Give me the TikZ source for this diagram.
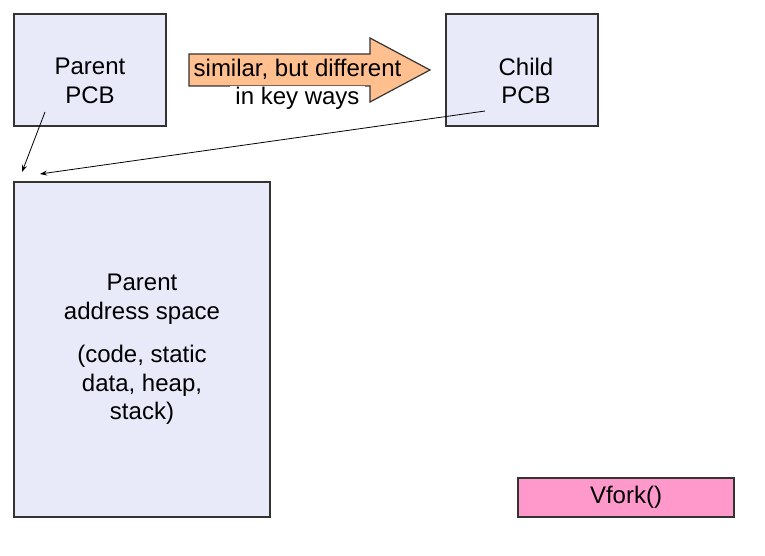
\documentclass[tikz,border=0pt]{standalone}
\usepackage{fontspec}
\setmainfont{Liberation Sans}
\usetikzlibrary{arrows.meta}
\definecolor{boxfill}{HTML}{E8EAFA}
\definecolor{boxline}{HTML}{333333}
\definecolor{arrowfill}{HTML}{FFBF8F}
\definecolor{vforkfill}{HTML}{FF99CC}
\tikzset{
	box/.style={draw=boxline, line width=1.2pt, fill=boxfill, inner sep=0pt, align=center},
	lbl/.style={inner sep=0pt, align=center},
	link/.style={-{Stealth[length=7pt,width=5pt]}, line width=0.8pt}
}
\begin{document}
\begin{tikzpicture}[x=1pt,y=-1pt]
	\fontsize{24}{28.8}\selectfont
	\useasboundingbox (0,0) rectangle (765,556);
	% the two PCBs
	\node [box, minimum width=152pt, minimum height=112pt] (ppcb) at (90,70) {};
	\node [lbl] (ppcbtext) at (90,81) {Parent\\PCB};
	\node [box, minimum width=152pt, minimum height=112pt] (cpcb) at (522,70) {};
	\node [lbl] (cpcbtext) at (526,81) {Child\\PCB};
	% big arrow between them
	\draw [draw=boxline, line width=1.2pt, fill=arrowfill]
		(189,54) -- (370,54) -- (370,38) -- (430,70) -- (370,102) -- (370,86) -- (189,86) -- cycle;
	\node [lbl, anchor=base] (simtext) at (297.5,77) {similar, but different};
	\node [lbl, anchor=base, fill=white, inner xsep=5pt, inner ysep=1.5pt] (keytext) at (297.5,105) {in key ways};
	% address space
	\node [box, minimum width=256pt, minimum height=335pt] (pspace) at (142,349.5)
		{Parent\\address space\\[14pt](code, static\\data, heap,\\stack)};
	% vfork
	\node [box, fill=vforkfill, minimum width=216pt, minimum height=39pt] (vfork) at (626,497.5) {Vfork()};
	% pointers
	\coordinate (ptail) at (45,112);
	\coordinate (phead) at (22,172);
	\coordinate (ctail) at (485,111);
	\coordinate (chead) at (40,174);
	\draw [link] (ptail) -- (phead);
	\draw [link] (ctail) -- (chead);
\end{tikzpicture}
\end{document}
